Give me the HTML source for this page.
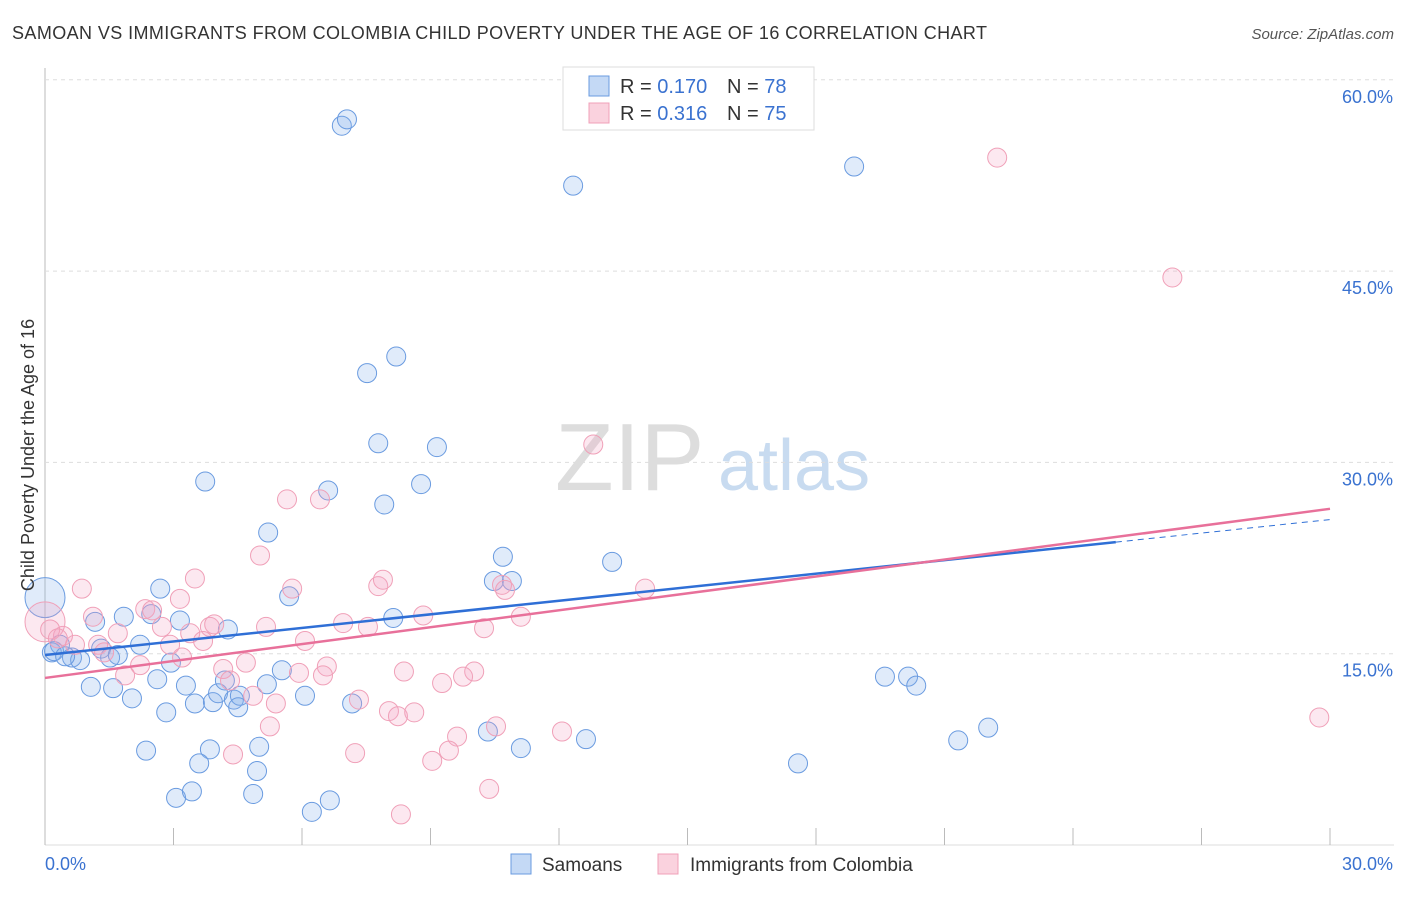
<!DOCTYPE html>
<html><head><meta charset="utf-8"><style>
body{margin:0;background:#fff;font-family:"Liberation Sans",sans-serif}
svg text{font-family:"Liberation Sans",sans-serif}
</style></head><body>
<svg id="chart" width="1406" height="892">
<text x="12" y="39" font-size="18" fill="#333" textLength="975">SAMOAN VS IMMIGRANTS FROM COLOMBIA CHILD POVERTY UNDER THE AGE OF 16 CORRELATION CHART</text>
<text x="1394" y="39" font-size="15" fill="#555" font-style="italic" text-anchor="end">Source: ZipAtlas.com</text>
<g><text x="555" y="490" font-size="96" fill="#ddd" font-family="Liberation Serif">ZIP</text><text x="718" y="490" font-size="72" fill="#c8dbf0">atlas</text></g>
<g id="grid"></g><g id="pts"></g><g id="lines"></g>
<text transform="translate(34,455) rotate(-90)" font-size="18" fill="#333" text-anchor="middle">Child Poverty Under the Age of 16</text>
<g>
<rect x="563" y="67" width="251" height="63" fill="#fff" stroke="#ddd"/>
<rect x="589" y="76" width="20" height="20" fill="#c4d9f5" stroke="#6a9be0"/>
<text x="620" y="93" font-size="20" fill="#333">R = <tspan fill="#3a72d0">0.170</tspan></text>
<text x="727" y="93" font-size="20" fill="#333">N = <tspan fill="#3a72d0">78</tspan></text>
<rect x="589" y="103" width="20" height="20" fill="#fad2de" stroke="#f0a0b8"/>
<text x="620" y="120" font-size="20" fill="#333">R = <tspan fill="#3a72d0">0.316</tspan></text>
<text x="727" y="120" font-size="20" fill="#333">N = <tspan fill="#3a72d0">75</tspan></text>
</g>
<g>
<rect x="511" y="854" width="20" height="20" fill="#c4d9f5" stroke="#6a9be0"/>
<text x="542" y="871" font-size="19" fill="#333">Samoans</text>
<rect x="658" y="854" width="20" height="20" fill="#fad2de" stroke="#f0a0b8"/>
<text x="690" y="871" font-size="19" fill="#333">Immigrants from Colombia</text>
</g>
</svg>
<script>
const yTicks=[15,30,45,60];
const yTickLabels=["15.0%","30.0%","45.0%","60.0%"];
const xTicks=[0,3,6,9,12,15,18,21,24,27,30];
const blueX=[6.93,7.05,12.33,18.89,8.20,7.52,7.78,9.15,3.74,8.78,6.61,7.92,5.21,10.69,13.24,10.48,10.90,2.69,5.70,8.13,1.84,2.48,3.15,1.17,4.27,2.22,2.94,0.35,0.16,0.63,0.82,1.31,1.52,1.70,5.53,5.18,2.62,3.29,1.07,1.59,2.03,2.83,3.50,3.92,4.04,4.20,4.41,4.55,4.51,6.07,7.17,2.36,3.85,3.60,5.00,4.95,3.06,3.43,4.86,6.23,6.65,10.34,11.11,12.63,17.58,19.61,20.15,20.34,21.32,22.02,0.21,0.47,0];
const blueY=[56.4,56.9,51.7,53.2,38.3,37.0,31.5,31.2,28.5,28.3,27.8,26.7,24.5,22.6,22.2,20.7,20.7,20.1,19.5,17.8,17.9,18.1,17.6,17.5,16.9,15.7,14.3,15.7,15.1,14.7,14.5,15.4,14.7,14.9,13.7,12.6,13.0,12.5,12.4,12.3,11.5,10.4,11.1,11.2,11.9,12.9,11.4,11.7,10.8,11.7,11.1,7.4,7.5,6.4,7.7,5.8,3.7,4.2,4.0,2.6,3.5,8.9,7.6,8.3,6.4,13.2,13.2,12.5,8.2,9.2,15.2,14.8,19.4];
const blueBig=[72];
const pinkX=[22.23,26.32,12.80,5.65,6.42,5.02,3.50,5.77,7.78,7.89,0.86,3.15,1.12,2.34,3.85,3.95,2.73,5.16,6.96,7.54,8.83,10.25,11.11,14.01,10.67,10.74,6.07,3.39,3.69,1.70,0.42,1.24,2.92,3.20,4.69,4.16,5.93,6.58,6.49,8.38,10.02,9.76,9.27,4.32,4.86,5.39,7.33,8.03,8.24,8.62,1.87,5.25,9.62,12.07,10.53,4.39,7.24,9.04,9.43,10.37,8.31,29.75,0,0.12,0.30,0.70,1.38,2.22,2.50];
const pinkY=[53.9,44.5,31.4,27.1,27.1,22.7,20.9,20.1,20.3,20.8,20.1,19.3,17.9,18.5,17.1,17.3,17.1,17.1,17.4,17.1,18.0,17.0,17.9,20.1,20.4,20.0,16.0,16.6,16.0,16.6,16.4,15.7,15.7,14.7,14.3,13.8,13.5,14.0,13.3,13.6,13.6,13.2,12.7,12.9,11.7,11.1,11.4,10.5,10.1,10.4,13.3,9.3,8.5,8.9,9.3,7.1,7.2,6.6,7.4,4.4,2.4,10.0,17.5,16.9,16.2,15.7,15.1,14.1,18.4];
const pinkBig=[62];
const trendBlue=[14.9,0.354,25];
const trendPink=[13.1,0.442,30];
const NS='http://www.w3.org/2000/svg';
const X=v=>45+v/30*1285, Y=v=>845-v/15*191.3;
function mk(tag,attrs,parent){const e=document.createElementNS(NS,tag);for(const k in attrs)e.setAttribute(k,attrs[k]);document.getElementById(parent).appendChild(e);return e;}
mk('line',{x1:45,y1:68,x2:45,y2:845,stroke:'#bbb'},'grid');
mk('line',{x1:45,y1:845,x2:1394,y2:845,stroke:'#ddd'},'grid');
yTicks.forEach((t,i)=>{
 const l=mk('line',{x1:45,x2:1394,y1:Y(t),y2:Y(t),stroke:'#ddd','stroke-dasharray':'4,4'},'grid');
 
 
 const tx=mk('text',{x:1393,y:Y(t)+23,'font-size':18,fill:'#3a72d0','text-anchor':'end'},'grid');tx.textContent=yTickLabels[i];
 
 
});
xTicks.forEach(t=>{const l=mk('line',{x1:X(t),x2:X(t),y1:828,y2:845,stroke:'#bbb'},'grid');
 
 });
[['0.0%',45,'start'],['30.0%',1393,'end']].forEach(a=>{const tx=mk('text',{x:a[1],y:870,'font-size':18,fill:'#3a72d0','text-anchor':a[2]},'grid');tx.textContent=a[0];
 
 });
function pts(xs,ys,big,fill,stroke,name){xs.forEach((x,i)=>{const c=mk('circle',{cx:X(x),cy:Y(ys[i]),r:big.includes(i)?20:9.5,fill:fill,stroke:stroke,'stroke-width':1},'pts');
 
 });}
pts(blueX,blueY,blueBig,'rgba(130,175,235,0.25)','#6a9be0','samoan-point');
pts(pinkX,pinkY,pinkBig,'rgba(245,165,195,0.25)','#f0a0b8','colombia-point');
let l=mk('line',{x1:X(0),y1:Y(trendBlue[0]),x2:X(trendBlue[2]),y2:Y(trendBlue[0]+trendBlue[1]*trendBlue[2]),stroke:'#2f6fd6','stroke-width':2.5},'lines');


l=mk('line',{x1:X(trendBlue[2]),y1:Y(trendBlue[0]+trendBlue[1]*trendBlue[2]),x2:X(30),y2:Y(trendBlue[0]+trendBlue[1]*30),stroke:'#2f6fd6','stroke-width':1,'stroke-dasharray':'6,5'},'lines');


l=mk('line',{x1:X(0),y1:Y(trendPink[0]),x2:X(trendPink[2]),y2:Y(trendPink[0]+trendPink[1]*trendPink[2]),stroke:'#e8709a','stroke-width':2.5},'lines');


</script>
</body></html>
